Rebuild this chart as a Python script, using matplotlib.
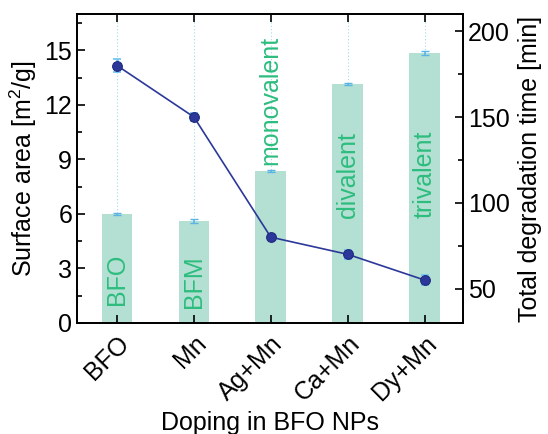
import matplotlib
matplotlib.use("Agg")
import matplotlib.pyplot as plt
from matplotlib.ticker import MultipleLocator
import numpy as np

plt.rcParams['font.family'] = ['Liberation Sans', 'DejaVu Sans']
plt.rcParams['mathtext.fontset'] = 'custom'
plt.rcParams['mathtext.rm'] = 'Liberation Sans'
plt.rcParams['mathtext.it'] = 'Liberation Sans:italic'

categories = ["BFO", "Mn", "Ag+Mn", "Ca+Mn", "Dy+Mn"]
surface_area = [6.0, 5.6, 8.35, 13.15, 14.85]
surface_err = [0.05, 0.12, 0.05, 0.05, 0.1]
degradation_time = [180, 150, 80, 70, 55]
degradation_err = [4, 2.5, 1.5, 2.5, 3]
bar_labels = ["BFO", "BFM", "monovalent", "divalent", "trivalent"]
label_bottoms = [1.0, 0.85, 8.7, 5.75, 5.8]

fig = plt.figure(figsize=(5.48, 4.34), dpi=100)
ax = fig.add_axes([0.1405, 0.2558, 0.7045, 0.7119])
x = np.arange(len(categories))

for xi in x:
    ax.axvline(xi, color='#9fdde8', lw=0.8, ls=(0, (1, 2)), zorder=0)

ax.bar(x, surface_area, width=0.4, color='#b3e0d2', zorder=1)
ax.errorbar(x, surface_area, yerr=surface_err, fmt='none', ecolor='#5ab4e6',
            elinewidth=1.2, capsize=3, capthick=1.0, zorder=2)

for xi, lab, yb in zip(x, bar_labels, label_bottoms):
    ax.text(xi, yb, lab, rotation=90, ha='center', va='bottom',
            color='#2dbd7e', fontsize=18, zorder=3)

ax.set_xlim(-0.52, 4.5)
ax.set_ylim(0, 17)
ax.yaxis.set_major_locator(MultipleLocator(3))
ax.yaxis.set_minor_locator(MultipleLocator(1.5))
ax.set_xticks(x)
ax.set_xticklabels(categories, rotation=45, ha='right', rotation_mode='anchor', fontsize=18)
ax.tick_params(axis='both', which='major', direction='in', length=6, width=1.2, labelsize=18, top=True)
ax.tick_params(axis='y', which='minor', direction='in', length=3.5, width=1.2)
ax.tick_params(axis='x', which='major', pad=6)
ax.set_ylabel("Surface area [m$^2$/g]", fontsize=18, labelpad=4)
ax.set_xlabel("Doping in BFO NPs", fontsize=18, labelpad=4)
for s in ax.spines.values():
    s.set_linewidth(1.3)

ax2 = ax.twinx()
ax2.set_ylim(30, 210)
ax2.yaxis.set_major_locator(MultipleLocator(50))
ax2.yaxis.set_minor_locator(MultipleLocator(25))
ax2.errorbar(x, degradation_time, yerr=degradation_err, fmt='none', ecolor='#6cc3ee',
             elinewidth=2, capsize=3, capthick=1.2, zorder=2)
ax2.plot(x, degradation_time, color='#2b3899', lw=1.2, marker='o', ms=7,
         mfc='#2b3899', mec='#1f2a80', mew=0.8, zorder=3)
ax2.tick_params(axis='y', which='major', direction='in', length=6, width=1.2, labelsize=18)
ax2.tick_params(axis='y', which='minor', direction='in', length=3.5, width=1.2)
ax2.set_ylabel("Total degradation time [min]", fontsize=18, labelpad=6)
for s in ax2.spines.values():
    s.set_linewidth(1.3)

fig.savefig("out.png", dpi=100)
